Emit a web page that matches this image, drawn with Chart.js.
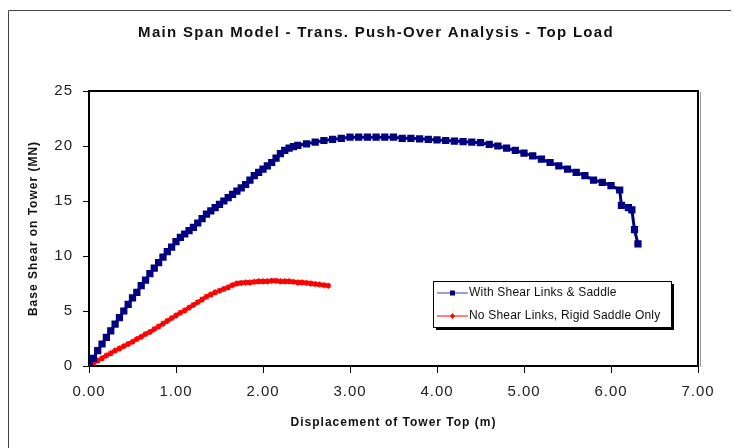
<!DOCTYPE html>
<html>
<head>
<meta charset="utf-8">
<script src="https://cdn.jsdelivr.net/npm/chart.js@4.4.1/dist/chart.umd.min.js"></script>
<style>
  body { margin: 0; background: #fff; overflow: hidden; }
</style>
</head>
<body>
<canvas id="c" width="733" height="448"></canvas>
<script>
const titleText = "Main Span Model - Trans. Push-Over Analysis - Top Load";
const xTitle = "Displacement of Tower Top (m)";
const yTitle = "Base Shear on Tower (MN)";
const seriesNames = ["With Shear Links & Saddle", "No Shear Links, Rigid Saddle Only"];

const linkX = [0, 0.05, 0.1, 0.15, 0.2, 0.25, 0.3, 0.35, 0.4, 0.45, 0.5, 0.55, 0.6, 0.65, 0.7, 0.75, 0.8, 0.85, 0.9, 0.95,
  1.0, 1.05, 1.1, 1.15, 1.2, 1.25, 1.3, 1.35, 1.4, 1.45, 1.5, 1.55, 1.6, 1.65, 1.7, 1.75, 1.8, 1.85, 1.9, 1.95,
  2.0, 2.05, 2.1, 2.15, 2.2, 2.25, 2.3, 2.35, 2.4, 2.5, 2.6, 2.7, 2.8, 2.9,
  3.0, 3.1, 3.2, 3.3, 3.4, 3.5, 3.6, 3.7, 3.8, 3.9, 4.0, 4.1, 4.2, 4.3, 4.4, 4.5, 4.6, 4.7, 4.8, 4.9,
  5.0, 5.1, 5.2, 5.3, 5.4, 5.5, 5.6, 5.7, 5.8, 5.9, 6.0, 6.1, 6.12, 6.2, 6.24, 6.27, 6.31];
const linkY = [0, 0.7, 1.4, 2.0, 2.6, 3.2, 3.8, 4.4, 5.0, 5.6, 6.2, 6.7, 7.3, 7.8, 8.4, 8.9, 9.4, 9.9, 10.4, 10.8,
  11.3, 11.7, 12.0, 12.3, 12.6, 13.0, 13.4, 13.8, 14.1, 14.4, 14.7, 15.0, 15.3, 15.6, 15.9, 16.2, 16.5, 16.9, 17.3, 17.6,
  17.9, 18.2, 18.5, 18.9, 19.3, 19.6, 19.8, 19.95, 20.05, 20.2, 20.35, 20.5, 20.6, 20.7,
  20.8, 20.8, 20.8, 20.8, 20.8, 20.8, 20.7, 20.7, 20.65, 20.6, 20.55, 20.5, 20.45, 20.4, 20.35, 20.3, 20.15, 20.0, 19.8, 19.6,
  19.35, 19.1, 18.8, 18.5, 18.2, 17.9, 17.6, 17.3, 16.9, 16.7, 16.4, 16.0, 14.6, 14.4, 14.2, 12.4, 11.1];

const rigidX = [0, 0.05, 0.1, 0.15, 0.2, 0.25, 0.3, 0.35, 0.4, 0.45, 0.5, 0.55, 0.6, 0.65, 0.7, 0.75, 0.8, 0.85, 0.9, 0.95,
  1.0, 1.05, 1.1, 1.15, 1.2, 1.25, 1.3, 1.35, 1.4, 1.45, 1.5, 1.55, 1.6, 1.65, 1.7, 1.75, 1.8, 1.85, 1.9, 1.95,
  2.0, 2.05, 2.1, 2.15, 2.2, 2.25, 2.3, 2.35, 2.4, 2.45, 2.5, 2.55, 2.6, 2.65, 2.7, 2.75];
const rigidY = [0, 0.25, 0.5, 0.7, 0.95, 1.15, 1.4, 1.6, 1.8, 2.0, 2.2, 2.45, 2.65, 2.9, 3.1, 3.35, 3.6, 3.85, 4.1, 4.35,
  4.6, 4.85, 5.05, 5.3, 5.55, 5.8, 6.05, 6.3, 6.5, 6.7, 6.85, 7.0, 7.15, 7.35, 7.5, 7.55, 7.6, 7.6, 7.65, 7.7,
  7.7, 7.7, 7.75, 7.75, 7.7, 7.7, 7.7, 7.65, 7.6, 7.6, 7.55, 7.5, 7.45, 7.4, 7.35, 7.3];

const xTicks = [0, 1, 2, 3, 4, 5, 6, 7];
const yTicks = [0, 5, 10, 15, 20, 25];

const toPoints = (xs, ys) => xs.map((x, i) => ({ x: x, y: ys[i] }));

// outer frame, title, frame round the plot area and the legend box inside it
const extras = {
  id: "extras",
  beforeDraw(chart) {
    const ctx = chart.ctx;
    ctx.save();
    ctx.strokeStyle = "#444";
    ctx.lineWidth = 1;
    ctx.beginPath();
    ctx.moveTo(8.5, 448);
    ctx.lineTo(8.5, 10.5);
    ctx.lineTo(731, 10.5);
    ctx.stroke();
    ctx.restore();
    ctx.letterSpacing = "1px";
  },
  afterDraw(chart) {
    const ctx = chart.ctx;
    const a = chart.chartArea;
    ctx.save();
    ctx.font = "bold 15px 'Liberation Sans', Arial, sans-serif";
    ctx.letterSpacing = "1.3px";
    ctx.fillStyle = "#111";
    ctx.textAlign = "center";
    ctx.textBaseline = "middle";
    ctx.fillText(titleText, 376, 33);
    ctx.textAlign = "left";

    ctx.strokeStyle = "#999";
    ctx.lineWidth = 1;
    ctx.beginPath();
    ctx.moveTo(a.right + 2.5, a.top + 1);
    ctx.lineTo(a.right + 2.5, a.bottom + 1);
    ctx.stroke();
    ctx.strokeStyle = "#000";
    ctx.lineWidth = 2;
    ctx.strokeRect(a.left, a.top, a.right - a.left, a.bottom - a.top);

    // legend
    const bx = 433, by = 281, bw = 238, bh = 46;
    ctx.fillStyle = "#000";
    ctx.fillRect(bx + 3, by + 3, bw, bh);
    ctx.fillStyle = "#fff";
    ctx.fillRect(bx, by, bw, bh);
    ctx.strokeStyle = "#000";
    ctx.lineWidth = 1;
    ctx.strokeRect(bx + 0.5, by + 0.5, bw, bh);
    ctx.font = "12px 'Liberation Sans', Arial, sans-serif";
    ctx.letterSpacing = "0.2px";
    ctx.textBaseline = "middle";
    chart.data.datasets.forEach((ds, i) => {
      const ly = by + 12 + i * 23;
      ctx.strokeStyle = i === 0 ? "#4040a0" : ds.borderColor;
      ctx.lineWidth = 1;
      ctx.beginPath();
      ctx.moveTo(bx + 4, ly);
      ctx.lineTo(bx + 35, ly);
      ctx.stroke();
      ctx.fillStyle = ds.pointBackgroundColor;
      if (i === 0) {
        ctx.fillRect(bx + 17, ly - 2.5, 5, 5);
      } else {
        ctx.beginPath();
        ctx.moveTo(bx + 19.5, ly - 3);
        ctx.lineTo(bx + 22, ly);
        ctx.lineTo(bx + 19.5, ly + 3);
        ctx.lineTo(bx + 17, ly);
        ctx.closePath();
        ctx.fill();
      }
      ctx.fillStyle = "#111";
      ctx.fillText(ds.label, bx + 36, ly);
    });
    ctx.restore();
  }
};

new Chart(document.getElementById("c"), {
  type: "line",
  data: {
    datasets: [
      {
        label: seriesNames[0],
        data: toPoints(linkX, linkY),
        borderColor: "#000080",
        backgroundColor: "#000080",
        pointBackgroundColor: "#000080",
        pointBorderColor: "#000080",
        pointStyle: "rect",
        pointRadius: 3,
        borderWidth: 3,
        tension: 0,
      },
      {
        label: seriesNames[1],
        data: toPoints(rigidX, rigidY),
        borderColor: "#ff0000",
        backgroundColor: "#ff0000",
        pointBackgroundColor: "#ff0000",
        pointBorderColor: "#ff0000",
        pointStyle: "star",
        pointRadius: 3,
        pointBorderWidth: 1.5,
        borderWidth: 3.5,
        tension: 0,
      },
    ],
  },
  options: {
    responsive: false,
    animation: false,
    layout: { padding: { left: 0, right: 35, top: 91, bottom: 0 } },
    plugins: {
      legend: { display: false },
      tooltip: { enabled: false },
      title: { display: false },
    },
    scales: {
      x: {
        type: "linear",
        min: 0,
        max: 7,
        afterBuildTicks: (s) => { s.ticks = xTicks.map((v) => ({ value: v })); },
        afterFit: (s) => { s.height = 82; },
        grid: { drawOnChartArea: false, color: "#000", tickLength: 7, tickColor: "#000" },
        border: { display: false },
        ticks: {
          color: "#222",
          padding: 10,
          maxRotation: 0,
          font: { family: "'Liberation Sans', Arial, sans-serif", size: 15 },
          callback: (v) => v.toFixed(2),
        },
        title: {
          display: true,
          text: xTitle,
          color: "#111",
          font: { family: "'Liberation Sans', Arial, sans-serif", size: 12, weight: "bold" },
          padding: { top: 0, bottom: 18 },
        },
      },
      y: {
        type: "linear",
        min: 0,
        max: 25,
        afterBuildTicks: (s) => { s.ticks = yTicks.map((v) => ({ value: v })); },
        afterFit: (s) => { s.width = 89; },
        grid: { drawOnChartArea: false, color: "#000", tickLength: 6, tickColor: "#000" },
        border: { display: false },
        ticks: {
          color: "#222",
          padding: 10,
          font: { family: "'Liberation Sans', Arial, sans-serif", size: 15 },
        },
        title: {
          display: true,
          text: yTitle,
          color: "#111",
          font: { family: "'Liberation Sans', Arial, sans-serif", size: 12, weight: "bold" },
          padding: { top: 26, bottom: 0 },
        },
      },
    },
  },
  plugins: [extras],
});
</script>
</body>
</html>
